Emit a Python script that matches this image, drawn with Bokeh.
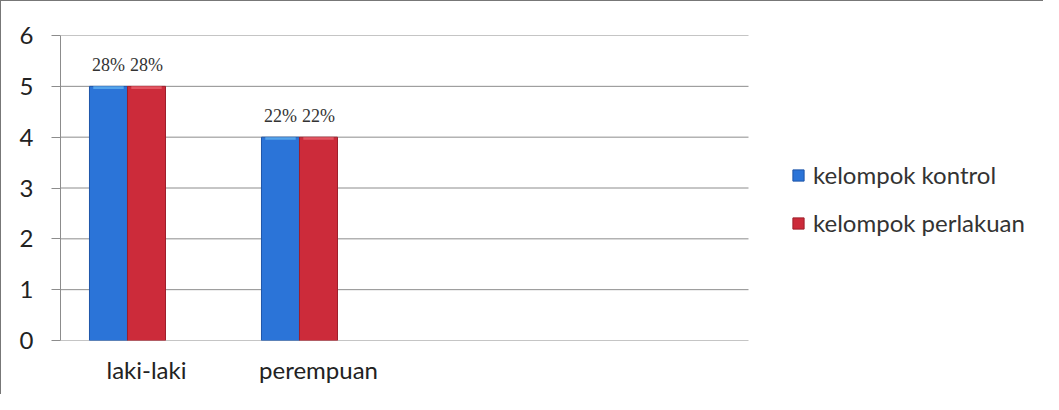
from bokeh.plotting import figure
from bokeh.models import ColumnDataSource, Legend, LegendItem, FixedTicker, Range1d
from bokeh.core.properties import value
from bokeh.embed import file_html
from bokeh.resources import INLINE

categories = ["laki-laki", "perempuan"]
n_slots = 4
kontrol = [5, 4]
perlakuan = [5, 4]
label_kontrol = ["28%", "22%"]
label_perlakuan = ["28%", "22%"]
series_names = ["kelompok kontrol", "kelompok perlakuan"]
y_ticks = [0, 1, 2, 3, 4, 5, 6]

# layout (pixels)
W, H = 1043, 394
left_px, slot_right_px, top_px, bottom_px = 59, 747, 34, 55
x_end = n_slots * (W - left_px) / (slot_right_px - left_px)

bar_w = 0.221
centers = [i + 0.5 for i in range(len(categories))]
x_k = [c - bar_w for c in centers]
x_p = [c for c in centers]

src_k = ColumnDataSource(dict(x=x_k, top=kontrol, cap=[t - 0.05 for t in kontrol], lab=label_kontrol))
src_p = ColumnDataSource(dict(x=x_p, top=perlakuan, cap=[t - 0.05 for t in perlakuan], lab=label_perlakuan))

p = figure(width=W, height=H, output_backend="svg", toolbar_location=None,
           x_range=Range1d(0, x_end), y_range=Range1d(0, 6),
           min_border_left=left_px, min_border_right=0, min_border_top=top_px,
           min_border_bottom=bottom_px)
p.styles = {"border-left": "1px solid #777", "border-top": "1px solid #777"}
p.outline_line_color = None
p.background_fill_color = "white"

# horizontal gridlines over the category slots
p.segment(x0=0, x1=n_slots, y0=y_ticks, y1=y_ticks, line_color="#8c8c8c", line_width=1)

blue = "#2b74d8"
red = "#cc2b3a"
rk = p.vbar(x="x", top="top", bottom=0, width=bar_w, source=src_k,
            fill_color=blue, line_color="#1d55a8", line_width=1)
rp = p.vbar(x="x", top="top", bottom=0, width=bar_w, source=src_p,
            fill_color=red, line_color="#9e1f2b", line_width=1)
# light cap highlight
p.vbar(x="x", top="top", bottom="cap", width=bar_w * 0.8, source=src_k,
       fill_color="#5fb0f0", line_color=None, fill_alpha=0.8)
p.vbar(x="x", top="top", bottom="cap", width=bar_w * 0.8, source=src_p,
       fill_color="#e8606c", line_color=None, fill_alpha=0.8)

for src in (src_k, src_p):
    p.text(x="x", y="top", text="lab", source=src, text_align="center", text_baseline="bottom",
           y_offset=-11, text_font=value("Liberation Serif"), text_font_size="18px",
           text_color="#333333")

# axes
p.yaxis.ticker = FixedTicker(ticks=y_ticks)
p.yaxis.major_tick_out = 9
p.yaxis.major_tick_in = 0
p.yaxis.minor_tick_line_color = None
p.yaxis.axis_line_color = "#8c8c8c"
p.yaxis.major_tick_line_color = "#8c8c8c"
p.yaxis.major_label_text_font = "Lato"
p.yaxis.major_label_text_font_size = "24px"
p.yaxis.major_label_text_color = "#222222"
p.yaxis.major_label_standoff = 18

p.xaxis.ticker = FixedTicker(ticks=centers)
p.xaxis.major_label_overrides = {c: name for c, name in zip(centers, categories)}
p.xaxis.major_tick_line_color = None
p.xaxis.minor_tick_line_color = None
p.xaxis.axis_line_color = None
p.xaxis.major_label_text_font = "Lato"
p.xaxis.major_label_text_font_size = "24px"
p.xaxis.major_label_text_color = "#222222"
p.xaxis.major_label_standoff = 8

p.grid.grid_line_color = None

legend = Legend(items=[LegendItem(label=series_names[0], renderers=[rk]),
                       LegendItem(label=series_names[1], renderers=[rp])],
                location=(731, 103), orientation="vertical")
legend.label_text_font = "Lato"
legend.label_text_font_size = "24px"
legend.label_text_color = "#333333"
legend.glyph_width = 14
legend.glyph_height = 14
legend.label_height = 24
legend.spacing = 19
legend.padding = 0
legend.margin = 0
legend.label_standoff = 8
legend.border_line_color = None
legend.background_fill_alpha = 0
p.add_layout(legend, "center")

open("out.html", "w").write(file_html(p, INLINE))
